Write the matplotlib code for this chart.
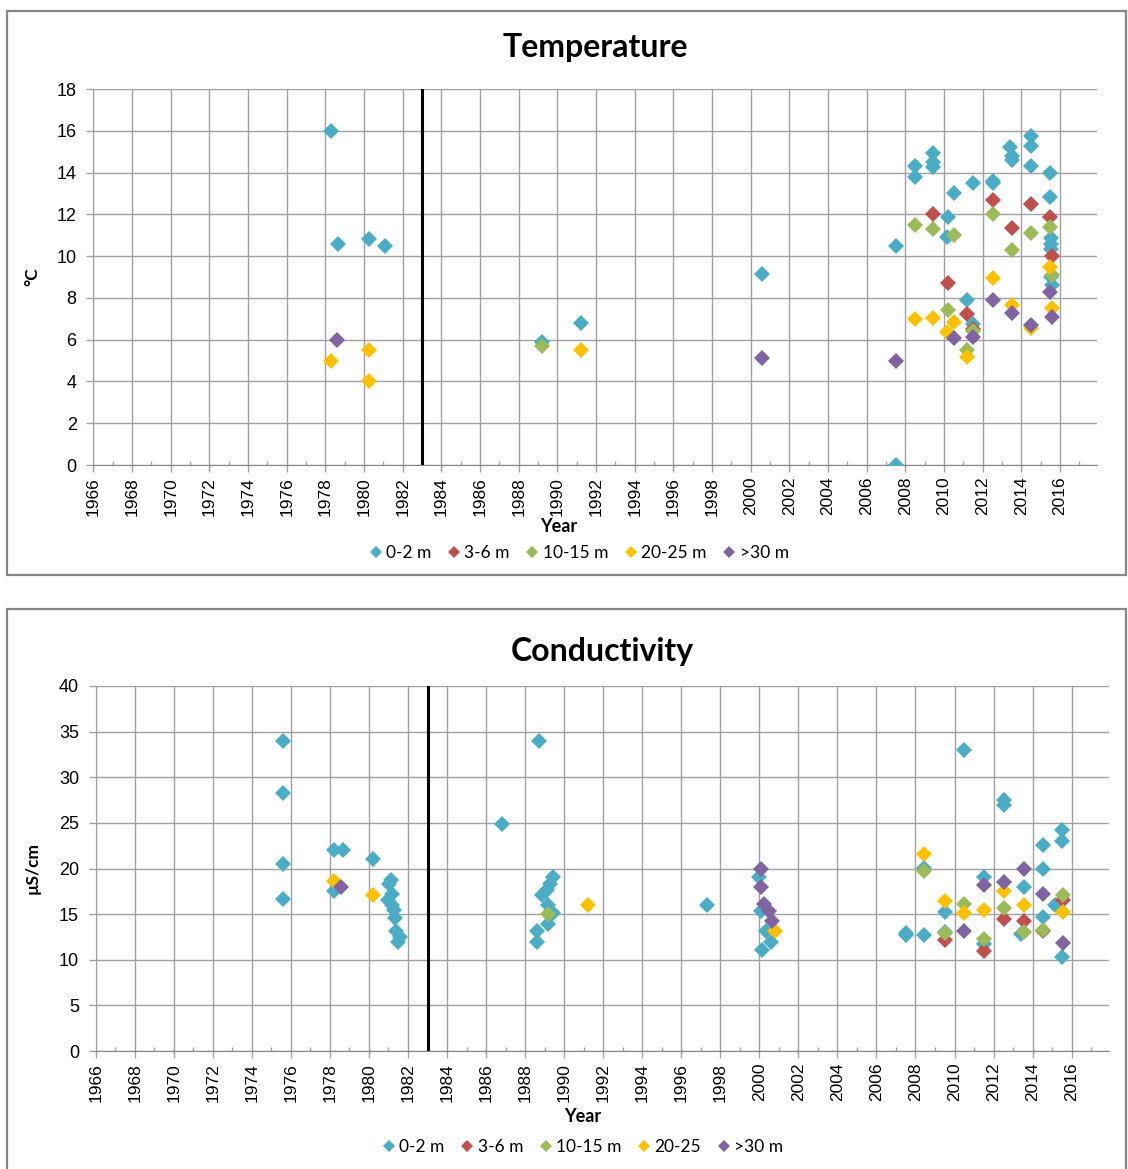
""" Lake profile scatter plots: temperature and conductivity by depth class """
import matplotlib
matplotlib.use('Agg')
import matplotlib.pyplot as plt
from matplotlib.lines import Line2D
from matplotlib.patches import Rectangle

DEPTHS = ['0-2 m', '3-6 m', '10-15 m', '20-25 m', '>30 m']
COND_LABELS = ['0-2 m', '3-6 m', '10-15 m', '20-25', '>30 m']
COLORS = ['#4bacc6', '#c0504d', '#9bbb59', '#ffc000', '#8064a2']
SHIFT_YEAR = 1983

# temperature (deg C), sampling year as decimal year
temp_02_year = [1978.3, 1978.65, 1980.25, 1981.1, 1989.2, 1991.2, 2000.6, 2007.5, 2007.5,
                2008.5, 2008.5, 2009.45, 2009.45, 2009.45, 2010.2, 2010.15, 2010.5, 2011.2,
                2011.5, 2011.5, 2012.55, 2012.55, 2013.4, 2013.5, 2013.5, 2014.5, 2014.5,
                2014.5, 2015.5, 2015.5, 2015.55, 2015.55, 2015.55, 2015.55, 2015.6]
temp_02_val = [16.0, 10.6, 10.8, 10.5, 5.9, 6.8, 9.15, 10.5, 0.0,
               14.3, 13.8, 14.95, 14.5, 14.25, 11.85, 10.9, 13.0, 7.9,
               13.5, 6.75, 13.6, 13.5, 15.2, 14.8, 14.6, 15.75, 15.25,
               14.3, 14.0, 12.85, 10.85, 10.6, 10.35, 9.0, 8.6]
temp_36_year = [2009.45, 2010.2, 2011.2, 2011.5, 2012.55, 2013.5, 2014.5, 2015.5, 2015.6]
temp_36_val = [12.0, 8.7, 7.25, 6.5, 12.7, 11.35, 12.5, 11.85, 10.0]
temp_1015_year = [1989.2, 2008.5, 2009.45, 2010.2, 2010.5, 2011.2, 2011.5, 2012.55, 2013.5,
                  2014.5, 2015.5, 2015.6]
temp_1015_val = [5.7, 11.5, 11.3, 7.4, 11.0, 5.5, 6.4, 12.0, 10.3, 11.1, 11.4, 9.1]
temp_2025_year = [1978.3, 1980.25, 1980.25, 1991.2, 2008.5, 2009.45, 2010.15, 2010.5, 2011.2,
                  2012.55, 2013.5, 2014.5, 2015.5, 2015.6]
temp_2025_val = [5.0, 5.5, 4.0, 5.5, 7.0, 7.05, 6.35, 6.85, 5.15, 8.95, 7.65, 6.55, 9.5, 7.5]
temp_30_year = [1978.6, 2000.6, 2007.5, 2010.5, 2011.5, 2012.55, 2013.5, 2014.5, 2015.5, 2015.6]
temp_30_val = [6.0, 5.1, 5.0, 6.1, 6.15, 7.9, 7.3, 6.7, 8.3, 7.1]

# conductivity (uS/cm)
cond_02_year = [1975.6, 1975.6, 1975.6, 1975.6, 1978.2, 1978.2, 1978.65, 1980.2,
                1981.15, 1981.05, 1981.2, 1981.0, 1981.2, 1981.3, 1981.35, 1981.4, 1981.6, 1981.5,
                1986.8, 1988.7, 1989.45, 1989.3, 1989.1, 1988.85, 1989.15, 1989.45, 1989.15,
                1988.6, 1988.6, 1997.3, 2000.0, 2000.1, 2000.35, 2000.15, 2000.6,
                2007.5, 2007.5, 2008.45, 2008.45, 2009.5, 2009.5, 2010.5, 2011.5, 2011.5,
                2012.55, 2012.55, 2013.4, 2013.55, 2014.55, 2014.55, 2014.55, 2015.15,
                2015.5, 2015.5, 2015.5]
cond_02_val = [34.0, 28.3, 20.5, 16.7, 22.0, 17.5, 22.0, 21.05,
               18.7, 18.3, 17.2, 16.5, 16.0, 15.5, 14.6, 13.2, 12.5, 12.0,
               24.9, 34.0, 19.1, 18.3, 17.6, 17.1, 16.0, 15.1, 13.9,
               13.1, 12.0, 16.0, 19.1, 15.3, 13.2, 11.1, 12.0,
               12.95, 12.7, 20.1, 12.7, 15.2, 13.0, 33.0, 19.1, 11.7,
               27.5, 27.0, 12.85, 18.0, 22.6, 20.0, 14.7, 16.0,
               24.2, 23.0, 10.3]
cond_36_year = [2009.5, 2011.5, 2012.55, 2013.55, 2014.55, 2015.55]
cond_36_val = [12.2, 11.0, 14.5, 14.2, 13.2, 16.5]
cond_1015_year = [1989.15, 2008.45, 2009.5, 2010.5, 2011.5, 2012.55, 2013.55, 2014.55, 2015.55]
cond_1015_val = [15.0, 19.7, 12.9, 16.1, 12.3, 15.7, 13.0, 13.3, 17.1]
cond_2025_year = [1978.2, 1980.2, 1991.2, 2000.8, 2008.45, 2009.5, 2010.5, 2011.5, 2012.55,
                  2013.55, 2015.55]
cond_2025_val = [18.6, 17.1, 16.0, 13.1, 21.6, 16.4, 15.1, 15.5, 17.5, 16.0, 15.2]
cond_30_year = [1978.55, 2000.1, 2000.1, 2000.25, 2000.5, 2000.65, 2010.5, 2011.5, 2012.55,
                2013.55, 2014.55, 2015.55]
cond_30_val = [18.0, 20.0, 18.0, 16.1, 15.3, 14.3, 13.2, 18.2, 18.5, 20.0, 17.2, 11.8]

YEAR_TICKS = list(range(1966, 2017, 2))
GRID = '#a0a0a0'
TEXT_FONT = ['Lato', 'DejaVu Sans']
TICK_FONT = ['Liberation Sans', 'DejaVu Sans']


def draw_panel(fig, rect, series, labels, ymax, ystep, title, ylabel, title_y, year_y,
               year_x, legend_x, legend_y):
    """ Draws one scatter panel with Excel-like styling
    :param list series: list of (years, values) per depth class
    """
    ax = fig.add_axes(rect)
    for (years, vals), color in zip(series, COLORS):
        ax.plot(years, vals, linestyle='none', marker='D', markersize=8.6,
                color=color, markeredgewidth=0, zorder=3)
    ax.axvline(SHIFT_YEAR, color='black', linewidth=2.2, zorder=4)

    ax.set_xlim(1966, 2017.9)
    ax.set_ylim(0, ymax)
    ax.set_xticks(YEAR_TICKS)
    ax.set_xticks(range(1967, 2018, 2), minor=True)
    ax.set_yticks(range(0, ymax + 1, ystep))
    ax.set_xticklabels([str(y) for y in YEAR_TICKS], rotation=90, family=TICK_FONT,
                       fontsize=12.5)
    ax.set_yticklabels([str(v) for v in range(0, ymax + 1, ystep)], family=TICK_FONT,
                       fontsize=13)
    ax.tick_params(axis='x', which='major', direction='out', length=5, width=1,
                   color=GRID, pad=3.5)
    ax.tick_params(axis='x', which='minor', direction='in', length=3, width=1, color=GRID)
    ax.tick_params(axis='y', which='major', direction='out', length=5, width=1,
                   color=GRID, pad=7)
    ax.grid(True, which='major', color=GRID, linewidth=1.0, zorder=0)
    ax.set_axisbelow(True)
    for side in ['top', 'right']:
        ax.spines[side].set_visible(False)
    ax.spines['left'].set_color(GRID)
    ax.spines['bottom'].set_color('#868686')

    x_mid = rect[0] + rect[2] / 2
    fig.text(x_mid, title_y, title, ha='center', va='center', fontsize=23,
             fontweight='bold', family=TEXT_FONT)
    fig.text(year_x, year_y, 'Year', ha='center', va='center', fontsize=13,
             fontweight='bold', family=TEXT_FONT)
    fig.text(0.029, rect[1] + rect[3] / 2, ylabel, ha='center', va='center', rotation=90,
             fontsize=12.5, fontweight='bold', family=TEXT_FONT)

    handles = [Line2D([], [], linestyle='none', marker='D', markersize=6.5, color=c,
                      markeredgewidth=0) for c in COLORS]
    fig.legend(handles, labels, loc='center', bbox_to_anchor=(legend_x, legend_y), ncol=5,
               frameon=False, handletextpad=0.0, columnspacing=0.7, handlelength=1.2,
               prop={'family': TEXT_FONT, 'size': 12.5})
    return ax


fig = plt.figure(figsize=(11.28, 11.69), dpi=100)

# chart borders
for y0, h in [(1 - 575 / 1169, 564 / 1169), (-0.01, (1169 - 609) / 1169 + 0.01)]:
    fig.patches.append(Rectangle((7 / 1128, y0), 1119 / 1128, h, transform=fig.transFigure,
                                 fill=False, edgecolor='#868686', linewidth=1.6))

temp_series = [(temp_02_year, temp_02_val), (temp_36_year, temp_36_val),
               (temp_1015_year, temp_1015_val), (temp_2025_year, temp_2025_val),
               (temp_30_year, temp_30_val)]
cond_series = [(cond_02_year, cond_02_val), (cond_36_year, cond_36_val),
               (cond_1015_year, cond_1015_val), (cond_2025_year, cond_2025_val),
               (cond_30_year, cond_30_val)]

draw_panel(fig, [93.3 / 1128, 1 - 465 / 1169, 1003.4 / 1128, 376 / 1169], temp_series, DEPTHS,
           18, 2, 'Temperature', '°C', 1 - 48 / 1169, 1 - 526 / 1169, 559 / 1128,
           577 / 1128, 1 - 553 / 1169)
draw_panel(fig, [95.7 / 1128, 1 - 1051 / 1169, 1013 / 1128, 365 / 1169], cond_series,
           COND_LABELS, 40, 5, 'Conductivity', 'µS/cm', 1 - 652 / 1169, 1 - 1117 / 1169,
           583 / 1128, 581 / 1128, 1 - 1147 / 1169)

fig.savefig('out.png', dpi=100)
